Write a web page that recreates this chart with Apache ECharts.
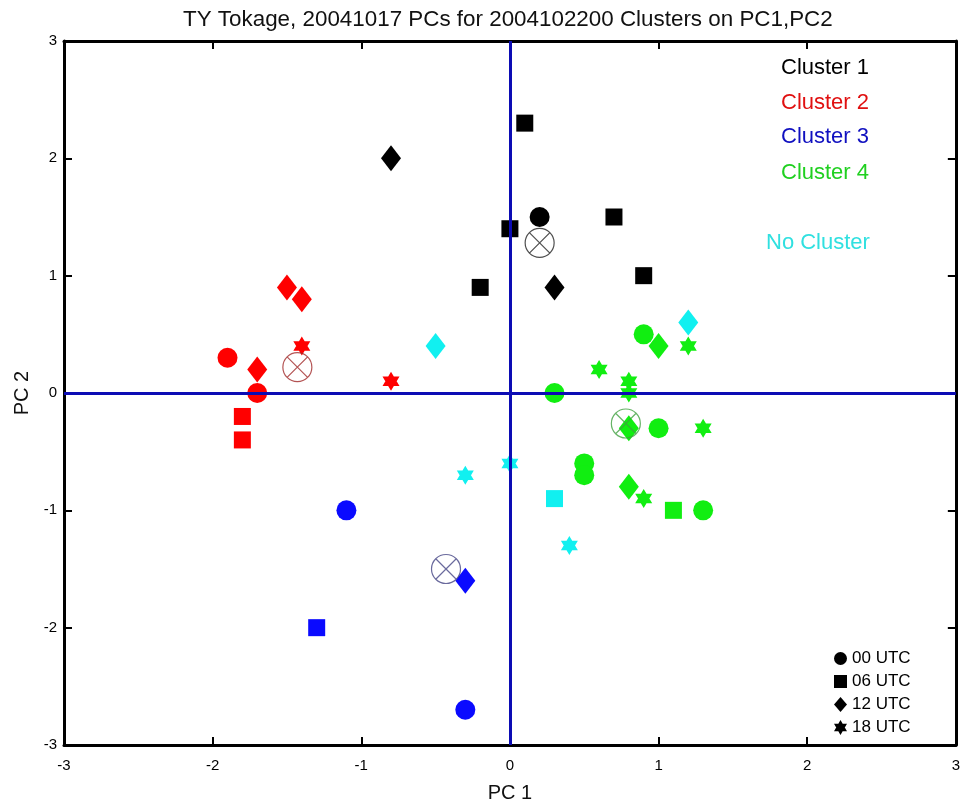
<!DOCTYPE html>
<html>
<head>
<meta charset="utf-8">
<script src="https://cdn.jsdelivr.net/npm/echarts@6/dist/echarts.min.js"></script>
<style>
html,body{margin:0;padding:0;background:#fff;}
#chart{width:963px;height:809px;}
</style>
</head>
<body>
<div id="chart"></div>
<script>
// ---- data: [PC1, PC2, hour] ----
const cluster1 = [[-0.8,2.0,'12'],[0.1,2.3,'06'],[0.2,1.5,'00'],[0.0,1.4,'06'],[0.7,1.5,'06'],[0.9,1.0,'06'],[-0.2,0.9,'06'],[0.3,0.9,'12']];
const cluster2 = [[-1.9,0.3,'00'],[-1.7,0.0,'00'],[-1.7,0.2,'12'],[-1.5,0.9,'12'],[-1.4,0.8,'12'],[-1.4,0.4,'18'],[-0.8,0.1,'18'],[-1.8,-0.2,'06'],[-1.8,-0.4,'06']];
const cluster3 = [[-1.1,-1.0,'00'],[-1.3,-2.0,'06'],[-0.3,-1.6,'12'],[-0.3,-2.7,'00']];
const cluster4 = [[0.9,0.5,'00'],[1.0,0.4,'12'],[1.2,0.4,'18'],[0.6,0.2,'18'],[0.8,0.1,'18'],[0.8,0.0,'18'],[0.3,0.0,'00'],[0.8,-0.3,'12'],[1.0,-0.3,'00'],[1.3,-0.3,'18'],[0.5,-0.6,'00'],[0.5,-0.7,'00'],[0.8,-0.8,'12'],[0.9,-0.9,'18'],[1.1,-1.0,'06'],[1.3,-1.0,'00']];
const noCluster = [[1.2,0.6,'12'],[-0.5,0.4,'12'],[-0.3,-0.7,'18'],[0.0,-0.6,'18'],[0.3,-0.9,'06'],[0.4,-1.3,'18']];
const centroids = [[0.2,1.28],[-1.43,0.22],[-0.43,-1.5],[0.78,-0.26]];
const hours = ['00','06','12','18'];
const clusterNames = ['Cluster 1','Cluster 2','Cluster 3','Cluster 4','No Cluster'];
const axisTicks = [-3,-2,-1,0,1,2,3];

// ---- styling ----
const clusterColors = ['#000000','#ff0000','#0a0aff','#11ee11','#11f0f0'];
const textColors = ['#000000','#e01010','#1010c0','#20d020','#30e0e0'];
const centroidColors = ['#222222','#a02828','#454585','#40a040'];
const STAR = 'path://M0,-1 L0.866,0.5 L-0.866,0.5 Z M0,1 L-0.866,-0.5 L0.866,-0.5 Z';
const SQUARE = 'path://M0,0 L1,0 L1,1 L0,1 Z';
const CROSSCIRCLE = 'path://M0,-1 A1,1 0 1,1 0,1 A1,1 0 1,1 0,-1 Z M-0.707,-0.707 L0.707,0.707 M0.707,-0.707 L-0.707,0.707';
const hourSymbol = {'00':'circle','06':'rect','12':'diamond','18':STAR};
const hourSize = {'00':[20,20],'06':[17,17],'12':[20,26],'18':[17,19]};
const FONT = 'Liberation Sans, Arial, Helvetica, sans-serif';

const allClusters = [cluster1, cluster2, cluster3, cluster4, noCluster];
const series = [];

// reference lines at PC=0
series.push({
  type:'line', data:[], z:1, silent:true,
  markLine:{
    silent:true, symbol:'none', label:{show:false},
    lineStyle:{color:'#0c0cb4', width:3, type:'solid'},
    data:[{xAxis:0},{yAxis:0}]
  }
});

allClusters.forEach((pts, ci) => {
  hours.forEach(h => {
    const d = pts.filter(p => p[2] === h).map(p => [p[0], p[1]]);
    if (!d.length) return;
    series.push({
      name: h + ' UTC', type:'scatter', z:3,
      symbol: hourSymbol[h], symbolSize: hourSize[h],
      itemStyle:{color: clusterColors[ci], opacity:1},
      data: d
    });
  });
});

centroids.forEach((c, i) => {
  series.push({
    type:'scatter', z:4, symbol: CROSSCIRCLE, symbolSize:[29,29],
    itemStyle:{color:'rgba(0,0,0,0)', borderColor: centroidColors[i], borderWidth:1.2},
    data:[c]
  });
});

const axisCommon = {
  type:'value', min:-3, max:3, interval:1,
  splitLine:{show:false},
  axisLine:{show:true, onZero:false, lineStyle:{color:'#000', width:3}},
  axisTick:{show:true, inside:true, length:8, lineStyle:{color:'#000', width:2}},
};

const option = {
  backgroundColor:'#fff',
  animation:false,
  title:{
    text:'TY Tokage, 20041017 PCs for 2004102200 Clusters on PC1,PC2',
    left:178, top:4,
    textStyle:{fontFamily:FONT, fontSize:22.4, fontWeight:'normal', color:'#111'}
  },
  grid:{left:64, right:5, top:41, bottom:64, containLabel:false},
  xAxis:[
    Object.assign({}, axisCommon, {
      position:'bottom',
      name:'PC 1', nameLocation:'middle', nameGap:38,
      nameTextStyle:{fontFamily:FONT, fontSize:20, color:'#111'},
      axisLabel:{fontFamily:FONT, fontSize:15, color:'#000', margin:13,
        formatter: v => axisTicks.includes(v) ? String(v) : ''}
    }),
    Object.assign({}, axisCommon, {position:'top', axisLabel:{show:false}})
  ],
  yAxis:[
    Object.assign({}, axisCommon, {
      position:'left',
      name:'PC 2', nameLocation:'middle', nameGap:32, nameRotate:90,
      nameTextStyle:{fontFamily:FONT, fontSize:20, color:'#111'},
      axisLabel:{fontFamily:FONT, fontSize:15, color:'#000', margin:7,
        formatter: v => axisTicks.includes(v) ? String(v) : ''}
    }),
    Object.assign({}, axisCommon, {position:'right', axisLabel:{show:false}})
  ],
  legend:{
    orient:'vertical', left:829, top:645,
    itemWidth:13, itemHeight:15, itemGap:6,
    selectedMode:false,
    textStyle:{fontFamily:FONT, fontSize:17, color:'#000', lineHeight:15},
    data: hours.map(h => ({
      name: h + ' UTC',
      icon: h === '06' ? SQUARE : hourSymbol[h],
      itemStyle:{color:'#000'}
    }))
  },
  graphic: clusterNames.map((n, i) => ({
    type:'text',
    left: i === 4 ? 766 : 781,
    top: [57, 92, 126, 162, 232][i],
    style:{text:n, fill:textColors[i], font:'22px ' + FONT}
  })),
  series: series
};

const chart = echarts.init(document.getElementById('chart'), null, {renderer:'canvas'});
chart.setOption(option);
</script>
</body>
</html>
